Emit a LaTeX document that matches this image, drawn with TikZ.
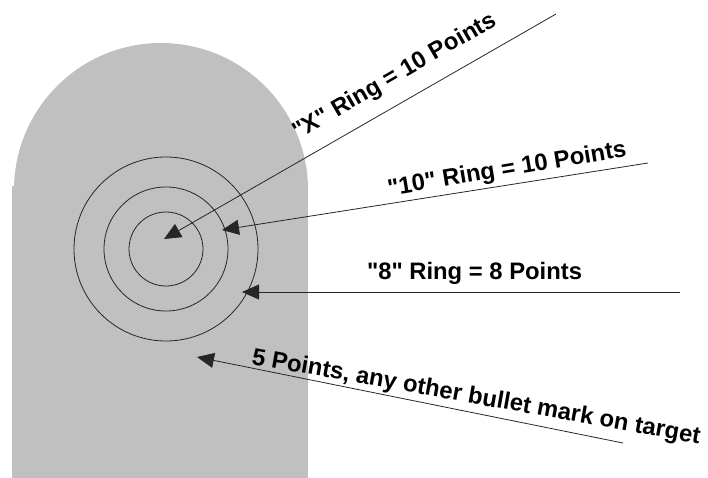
\documentclass[tikz,border=0pt]{standalone}
\usepackage{fontspec}
\setmainfont{Liberation Sans}
\usetikzlibrary{arrows.meta}
\definecolor{targetgray}{RGB}{192,192,192}
\tikzset{
  ptr/.style={draw=black!85, line width=0.8pt, -{Triangle[length=17pt,width=15pt]}},
  ring/.style={draw=black!85, line width=0.8pt},
  lbl/.style={font=\fontsize{23.8}{26}\selectfont\bfseries, inner sep=0pt, outer sep=0pt},
}
\newcommand{\qq}{\textquotedbl}
\begin{document}
\begin{tikzpicture}[x=1pt,y=-1pt]
\useasboundingbox (0,0) rectangle (708,478);
% target silhouette
\fill[targetgray] (12,186) rectangle (308,478);
\fill[targetgray] (161,190) circle[radius=147];
% rings
\coordinate (c) at (166,249);
\draw[ring] (c) circle[radius=37];
\draw[ring] (c) circle[radius=62];
\draw[ring] (c) circle[radius=92];
% arrow end points
\coordinate (xs) at (556,14);
\coordinate (xt) at (164,239);
\coordinate (ts) at (648,163);
\coordinate (tt) at (222,230);
\coordinate (es) at (680,292);
\coordinate (et) at (242,292);
\coordinate (fs) at (623,443);
\coordinate (ft) at (197,357);
\draw[ptr] (xs) -- (xt);
\draw[ptr] (ts) -- (tt);
\draw[ptr] (es) -- (et);
\draw[ptr] (fs) -- (ft);
% labels
\node[lbl, anchor=base west, rotate=30] (xl) at (298,140) {\qq X\qq{} Ring = 10 Points};
\node[lbl, anchor=base west, rotate=9.5] (tl) at (389,196) {\qq 10\qq{} Ring = 10 Points};
\node[lbl, anchor=base west] (el) at (367,279) {\qq 8\qq{} Ring = 8 Points};
\node[lbl, anchor=base west, rotate=-10.1] (fl) at (251,364) {5 Points, any other bullet mark on target};
\end{tikzpicture}
\end{document}
